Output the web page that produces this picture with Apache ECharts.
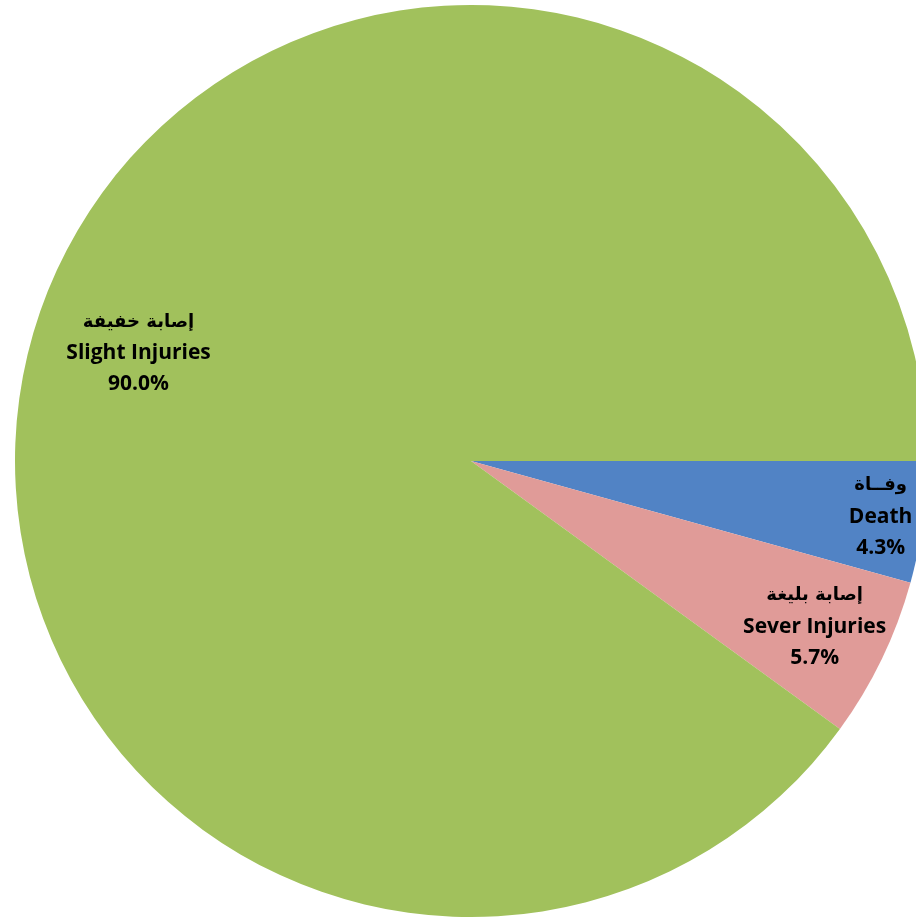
<!DOCTYPE html>
<html>
<head>
<meta charset="utf-8">
<script src="https://cdn.jsdelivr.net/npm/echarts@6/dist/echarts.min.js"></script>
<style>
html,body{margin:0;padding:0;background:#fff;}
#chart{width:916px;height:922px;}
</style>
</head>
<body>
<div id="chart"></div>
<script>
var arabicNames = ['وفــاة', 'إصابة بليغة', 'إصابة خفيفة'];
var englishNames = ['Death', 'Sever Injuries', 'Slight Injuries'];
var values = [4.3, 5.7, 90.0];
var colors = ['#5183C5', '#E09B98', '#A1C15C'];
// inner radius fraction of the invisible label ring for each slice
var labelRingInner = [0.80, 0.66, 0.52];

var CENTER = [471, 461];
var R = 456;

function makeData(showIndex) {
  return values.map(function (v, i) {
    return {
      name: englishNames[i],
      value: v,
      itemStyle: { color: showIndex === undefined ? colors[i] : 'rgba(0,0,0,0)' },
      label: { show: showIndex === i }
    };
  });
}

var labelStyle = {
  position: 'inside',
  color: '#000',
  align: 'center',
  rich: {
    ar: { fontFamily: '"DejaVu Sans", sans-serif', fontWeight: 'bold', fontSize: 18, lineHeight: 32, color: '#000', align: 'center' },
    en: { fontFamily: '"Open Sans", sans-serif', fontWeight: 'bold', fontSize: 21, lineHeight: 31, color: '#000', align: 'center' }
  },
  formatter: function (p) {
    var i = p.dataIndex;
    return '{ar|' + arabicNames[i] + '}\n{en|' + englishNames[i] + '}\n{en|' + values[i].toFixed(1) + '%}';
  }
};

var series = [{
  type: 'pie',
  center: CENTER,
  radius: [0, R],
  startAngle: 0,
  clockwise: true,
  silent: true,
  animation: false,
  label: { show: false },
  labelLine: { show: false },
  itemStyle: { borderWidth: 0 },
  data: makeData()
}];

values.forEach(function (v, i) {
  series.push({
    type: 'pie',
    center: CENTER,
    radius: [R * labelRingInner[i], R],
    startAngle: 0,
    clockwise: true,
    silent: true,
    animation: false,
    label: labelStyle,
    labelLine: { show: false },
    itemStyle: { borderWidth: 0 },
    emphasis: { disabled: true },
    data: makeData(i)
  });
});

var chart = echarts.init(document.getElementById('chart'));
chart.setOption({
  backgroundColor: '#fff',
  animation: false,
  series: series
});
</script>
</body>
</html>
